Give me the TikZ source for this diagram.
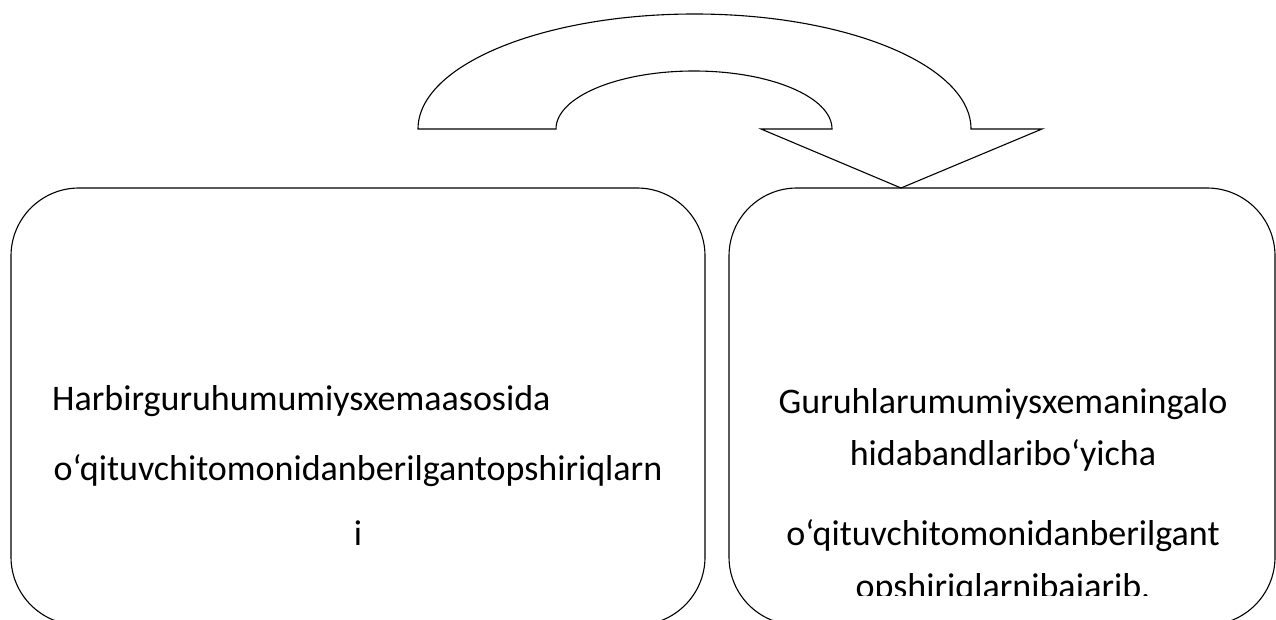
\documentclass[tikz,border=0pt]{standalone}
\usepackage{fontspec}
\setmainfont{Carlito}

\begin{document}
\begin{tikzpicture}[x=1pt, y=-1pt,
  blk/.style={draw, line width=1.1pt, rounded corners=68pt, minimum height=437pt},
  txt/.style={anchor=base, inner sep=0pt, font=\fontsize{36}{44}\selectfont}]
  \useasboundingbox (0,0) rectangle (1276,620);
  % the two boxes
  \node[blk, minimum width=694pt] (left) at (358,406.5) {};
  \node[blk, minimum width=546pt] (right) at (1002,406.5) {};
  % turning block arrow
  \draw[line width=1.1pt] (418,129) arc[start angle=180, end angle=0, x radius=276.5pt, y radius=115pt]
    -- (1042,129) -- (901,188) -- (761,129) -- (832,129)
    arc[start angle=0, end angle=180, x radius=138pt, y radius=58pt] -- cycle;
  % left text
  \node[txt, anchor=base west] (l1) at (52,410) {Harbirguruhumumiysxemaasosida};
  \node[txt] (l2) at (358,480) {o‘qituvchitomonidanberilgantopshiriqlarn};
  \node[txt] (l3) at (358,545) {i};
  % right text
  \node[txt] (r1) at (1003,413) {Guruhlarumumiysxemaningalo};
  \node[txt] (r2) at (1003,465) {hidabandlaribo‘yicha};
  \node[txt] (r3) at (1003,545) {o‘qituvchitomonidanberilgant};
  \begin{scope}
    \clip (right.north west) rectangle (1276,595);
    \node[txt] (r4) at (1003,598) {opshiriqlarnibajarib,};
  \end{scope}
\end{tikzpicture}
\end{document}
